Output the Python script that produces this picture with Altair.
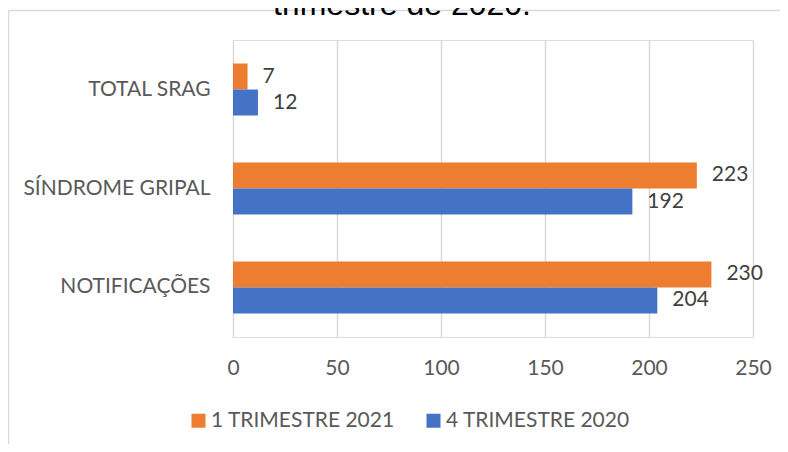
import altair as alt
import pandas as pd

categories = ["TOTAL SRAG", "SÍNDROME GRIPAL", "NOTIFICAÇÕES"]
series = ["1 TRIMESTRE 2021", "4 TRIMESTRE 2020"]
vals_2021 = [7, 223, 230]
vals_2020 = [12, 192, 204]
colors = ["#ED7D31", "#4472C4"]
x_ticks = [0, 50, 100, 150, 200, 250]
title_text = "trimestre de 2020."

rows = []
for c, a, b in zip(categories, vals_2021, vals_2020):
    rows.append({"cat": c, "serie": series[0], "v": a})
    rows.append({"cat": c, "serie": series[1], "v": b})
df = pd.DataFrame(rows)

FONT = "Lato"
FS = 21

base = alt.Chart(df).encode(
    y=alt.Y("cat:N", sort=categories, title=None,
            scale=alt.Scale(paddingInner=0.4747, paddingOuter=0.2374),
            axis=alt.Axis(domain=False, ticks=False, labelPadding=23, labelLimit=0,
                          labelFont=FONT, labelFontSize=FS, labelColor="#595959")),
    yOffset=alt.YOffset("serie:N", sort=series, scale=alt.Scale(paddingInner=0, paddingOuter=0)),
)

bars = base.mark_bar().encode(
    x=alt.X("v:Q", title=None,
            scale=alt.Scale(domain=[0, 250], nice=False),
            axis=alt.Axis(values=x_ticks, domain=False, ticks=False, grid=True,
                          gridColor="#d9d9d9", gridWidth=1.5, labelPadding=20,
                          labelFlush=False, labelLimit=0,
                          labelFont=FONT, labelFontSize=FS, labelColor="#595959")),
    color=alt.Color("serie:N", sort=series,
                    scale=alt.Scale(domain=series, range=colors),
                    legend=alt.Legend(title=None, orient="none", legendX=-45, legendY=370,
                                      direction="horizontal", symbolType="square",
                                      symbolSize=196, symbolStrokeWidth=0, labelLimit=0,
                                      labelFont=FONT, labelFontSize=FS, labelColor="#595959",
                                      labelOffset=2, columnPadding=28, padding=0)),
)

labels = base.mark_text(align="left", baseline="middle", dx=15,
                        font=FONT, fontSize=FS, color="#404040").encode(
    x=alt.X("v:Q"),
    text=alt.Text("v:Q"),
)

title_df = pd.DataFrame({"t": [title_text]})
title = alt.Chart(title_df).mark_text(align="center", baseline="alphabetic",
                                      font="Liberation Sans", fontSize=32,
                                      color="#000000").encode(
    x=alt.value(169), y=alt.value(-25), text="t:N")

frame_left = alt.Chart(title_df).mark_rule(color="#d9d9d9", strokeWidth=1.5).encode(
    x=alt.value(-224.5), y=alt.value(-29.5), y2=alt.value(404))
frame_top = alt.Chart(title_df).mark_rule(color="#d9d9d9", strokeWidth=1.5).encode(
    x=alt.value(-224.5), x2=alt.value(547), y=alt.value(-29.5))

chart = alt.layer(frame_left, frame_top, bars, labels, title).properties(
    width=520, height=297,
    autosize=alt.AutoSizeParams(type="none"),
    padding={"left": 225, "top": 32, "right": 27, "bottom": 107},
).configure_view(stroke=None).configure(background="white")

chart.save("out.html", embed_options={"renderer": "svg", "actions": False})
